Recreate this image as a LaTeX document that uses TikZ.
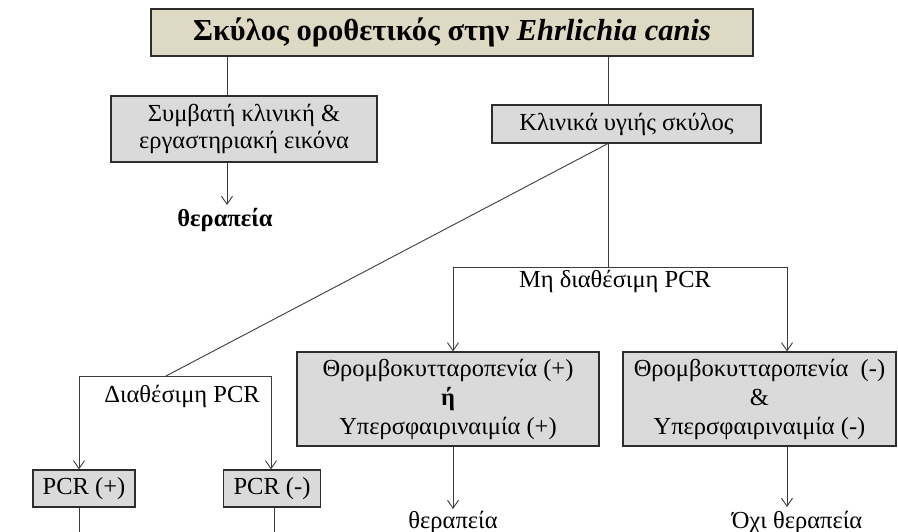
\documentclass[tikz,border=0pt]{standalone}
\usepackage{fontspec}
\setmainfont{Liberation Serif}
\usetikzlibrary{arrows.meta}
\definecolor{titlefill}{RGB}{221,217,195}
\definecolor{boxfill}{RGB}{218,218,218}
\definecolor{edge}{RGB}{45,45,45}
\definecolor{linec}{RGB}{60,60,60}
\begin{document}
\begin{tikzpicture}[x=1pt,y=-1pt,
  titlebox/.style={draw=edge,line width=1.3pt,fill=titlefill,minimum width=602pt,minimum height=47pt,inner sep=0pt,font=\fontsize{30.5}{34}\selectfont\bfseries},
  gbox/.style={draw=edge,line width=1.1pt,fill=boxfill,inner sep=0pt,align=center,font=\fontsize{24.5}{29}\selectfont},
  lbl/.style={inner sep=0pt,font=\fontsize{24.5}{29}\selectfont},
  ln/.style={draw=linec,line width=0.9pt},
  arr/.style={ln,-{Straight Barb[length=8pt,width=11pt]}}]
\useasboundingbox (0,0) rectangle (898,532);
\fill[white] (0,0) rectangle (898,532);
% boxes
\node[titlebox] (title) at (452,32.5) {Σκύλος οροθετικός στην \textit{Ehrlichia canis}};
\node[gbox,minimum width=266pt,minimum height=66pt,font=\fontsize{24.5}{27}\selectfont] (symb) at (244,129) {Συμβατή κλινική \&\\εργαστηριακή εικόνα};
\node[gbox,minimum width=269pt,minimum height=38pt] (klin) at (626.5,124) {Κλινικά υγιής σκύλος};
\node[gbox,minimum width=302pt,minimum height=94pt] (mid) at (448,399) {Θρομβοκυτταροπενία (+)\\\textbf{ή}\\Υπερσφαιριναιμία (+)};
\node[gbox,minimum width=273pt,minimum height=94pt] (rgt) at (759.5,399) {Θρομβοκυτταροπενία\ \ (-)\\\&\\Υπερσφαιριναιμία (-)};
\node[gbox,minimum width=102pt,minimum height=37pt] (pcrp) at (84,488.5) {PCR (+)};
\node[gbox,minimum width=97pt,minimum height=37pt] (pcrm) at (272,488.5) {PCR (-)};
% labels
\node[lbl,font=\fontsize{24.5}{29}\selectfont\bfseries] (ther1) at (225,220) {θεραπεία};
\node[lbl] (ther2) at (453,522) {θεραπεία};
\node[lbl] (ochi) at (797,522) {Όχι θεραπεία};
\node[lbl] (diath) at (182,396) {Διαθέσιμη PCR};
\node[lbl] (midiath) at (615,281) {Μη διαθέσιμη PCR};
% junction coordinates
\coordinate (xa) at (227,0);
\coordinate (xb) at (608,0);
\coordinate (t1) at (227,205);
\coordinate (jm) at (608,267);
\coordinate (ml) at (453,267);
\coordinate (mr) at (787,267);
\coordinate (jd) at (166,376);
\coordinate (dl) at (79,376);
\coordinate (dr) at (271,376);
\coordinate (xc) at (274,0);
\coordinate (b1) at (79,533);
\coordinate (b2) at (274,533);
\coordinate (t2) at (453,509);
\coordinate (t3) at (787,507);
% connectors
\draw[ln] (title.south -| xa) -- (symb.north -| xa);
\draw[ln] (title.south -| xb) -- (klin.north -| xb);
\draw[arr] (symb.south -| xa) -- (t1);
\draw[ln] (klin.south -| xb) -- (jm);
\draw[ln] (ml) -- (mr);
\draw[arr] (ml) -- (mid.north -| ml);
\draw[arr] (mr) -- (rgt.north -| mr);
\draw[ln] (klin.south -| xb) -- (jd);
\draw[ln] (dl) -- (dr);
\draw[arr] (dl) -- (pcrp.north -| dl);
\draw[arr] (dr) -- (pcrm.north -| dr);
\draw[ln] (pcrp.south -| dl) -- (b1);
\draw[ln] (pcrm.south -| xc) -- (b2);
\draw[arr] (mid.south -| ml) -- (t2);
\draw[arr] (rgt.south -| mr) -- (t3);
\end{tikzpicture}
\end{document}
